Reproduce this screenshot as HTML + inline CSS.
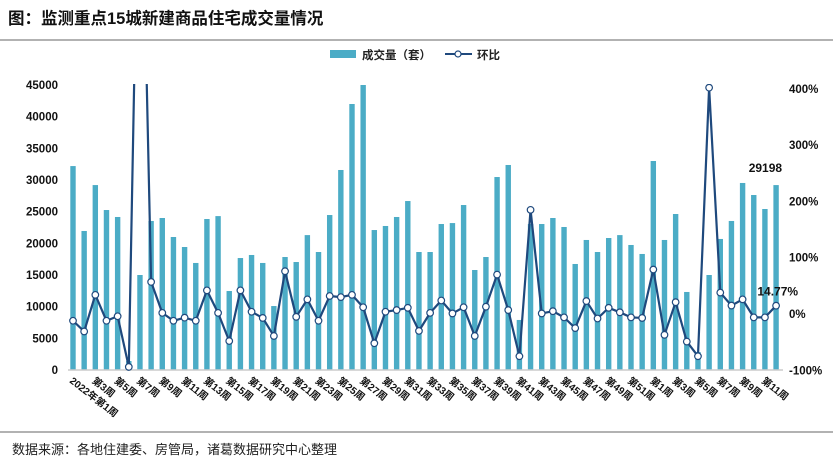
<!DOCTYPE html>
<html><head><meta charset="utf-8"><style>
body{margin:0;background:#fff;width:833px;height:465px;overflow:hidden;font-family:"Liberation Sans","Noto Sans CJK SC",sans-serif}
svg text{font-family:"Liberation Sans","Noto Sans CJK SC",sans-serif}
</style></head><body>
<svg id="c" width="833" height="465">
<text x="8" y="24" font-size="16.5" font-weight="bold" fill="#111">图：监测重点15城新建商品住宅成交量情况</text>
<line x1="0" y1="40" x2="833" y2="40" stroke="#999" stroke-width="1.5"/>
<g>
<rect x="330" y="50" width="26" height="8" fill="#4bacc6"/>
<text x="362" y="59" font-size="11.5" font-weight="bold" fill="#222">成交量（套）</text>
<line x1="445" y1="54" x2="472" y2="54" stroke="#1f497d" stroke-width="2"/>
<circle cx="458" cy="54" r="3" fill="#fff" stroke="#1f497d" stroke-width="1.2"/>
<text x="477" y="59" font-size="11.5" font-weight="bold" fill="#222">环比</text>
</g>
<g id="g"></g>
<line x1="0" y1="432" x2="833" y2="432" stroke="#999" stroke-width="1.5"/>
<text x="12" y="454" font-size="13" fill="#222">数据来源：各地住建委、房管局，诸葛数据研究中心整理</text>
</svg>
<script>
const categories=[];
for(let i=1;i<=52;i++)categories.push((i===1?'2022年':'')+'第'+i+'周');
for(let i=1;i<=12;i++)categories.push('第'+i+'周');
const volume=[32200,21950,29200,25260,24160,1420,15000,23530,24000,21000,19420,16900,23840,24300,12470,17680,18160,16900,10100,17840,17050,21300,18630,24470,31580,42000,45000,22100,22740,24160,26680,18630,18630,23050,23200,26050,15790,17840,30470,32370,7900,23050,23050,24000,22580,16740,20530,18630,20840,21300,19740,18320,33000,20530,24630,12320,2840,15000,20690,23530,29530,27630,25420,29198];
const mom=[-12,-31,34,-12,-4,-94,956,57,2,-12,-6.5,-12,42,2,-48,42,4,-7,-39,76,-5,26,-12,32,30,34,12,-52,4,7,11,-30,2,24,1,12,-39,13,70,7,-75,185,1,5,-6,-25,23,-8,11,3,-6,-7,79,-37,21,-49,-75,402,38,15,26,-6,-6,14.77];
const leftTicks=[0,5000,10000,15000,20000,25000,30000,35000,40000,45000];
const rightTicks=[-100,0,100,200,300,400];
const NS='http://www.w3.org/2000/svg',g=document.getElementById('g');
const x0=73,dx=11.16,base=370,topY=85;
const X=i=>x0+i*dx;
const YL=v=>base-(v/45000)*(base-topY);
const YR=p=>314-p*0.563;
function mk(t,a,p){const e=document.createElementNS(NS,t);for(const k in a)e.setAttribute(k,a[k]);(p||g).appendChild(e);return e;}
const defs=mk('defs',{});const cp=mk('clipPath',{id:'clip'},defs);mk('rect',{x:60,y:84,width:730,height:300},cp);
leftTicks.forEach(v=>{const t=mk('text',{x:58,y:YL(v)+4,'text-anchor':'end','font-size':11.5,'font-weight':'bold',fill:'#111'});t.textContent=v;

});
rightTicks.forEach(v=>{const t=mk('text',{x:789,y:YR(v)+4,'font-size':11.5,'font-weight':'bold',fill:'#111'});t.textContent=v+'%';

});
volume.forEach((v,i)=>{const yy=Math.max(YL(v),84);const r=mk('rect',{x:X(i)-2.7,y:yy,width:5.4,height:base-yy,fill:'#4bacc6'});

});
const ax=mk('line',{x1:68,y1:base,x2:783,y2:base,stroke:'#ccc','stroke-width':1.5});


const lg=mk('g',{'clip-path':'url(#clip)'});
const pl=mk('polyline',{points:mom.map((p,i)=>X(i)+','+YR(p)).join(' '),fill:'none',stroke:'#1f497d','stroke-width':2.2,'stroke-linejoin':'round'},lg);


mom.forEach((p,i)=>{const c=mk('circle',{cx:X(i),cy:YR(p),r:3.3,fill:'#fff',stroke:'#1f497d','stroke-width':1.2},lg);

});
categories.forEach((c,i)=>{if(i%2)return;const t=mk('text',{x:0,y:0,'font-size':10,'font-weight':'bold',fill:'#111',transform:`translate(${X(i)-4},${base+12}) rotate(38)`});t.textContent=c;

});
const n=volume.length-1;
const l1=mk('text',{x:X(n)+6,y:YL(volume[n])-13,'text-anchor':'end','font-size':12,'font-weight':'bold',fill:'#111'});l1.textContent=volume[n];


const l2=mk('text',{x:X(n)+22,y:YR(mom[n])-10,'text-anchor':'end','font-size':12,'font-weight':'bold',fill:'#111'});l2.textContent=mom[n]+'%';


</script>
</body></html>
